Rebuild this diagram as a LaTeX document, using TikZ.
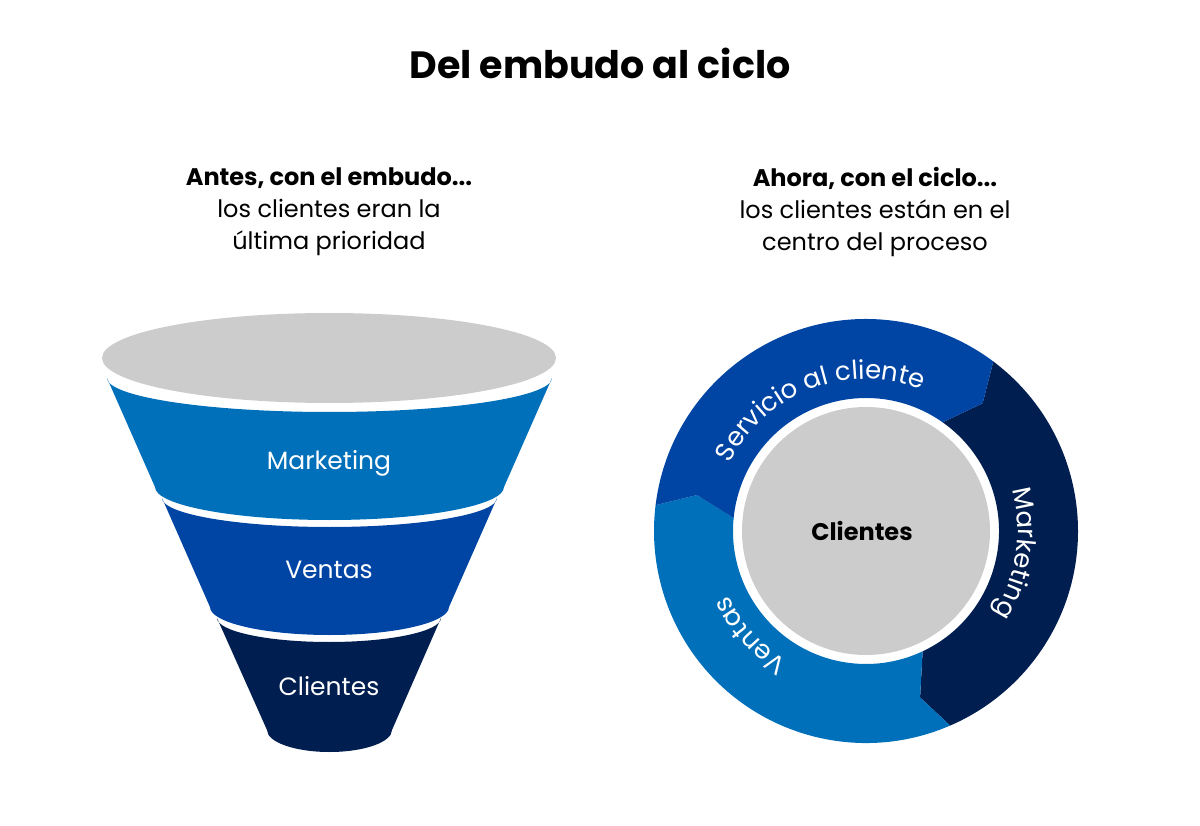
\documentclass[tikz,border=0pt]{standalone}
\usepackage{fontspec}
\setmainfont{Poppins}
\usetikzlibrary{decorations.text}
\definecolor{cgray}{HTML}{CCCCCC}
\definecolor{cmid}{HTML}{0070BA}
\definecolor{cblue}{HTML}{0045A4}
\definecolor{cdark}{HTML}{001E4F}
\tikzset{
 lbl/.style={text=white,font=\fontsize{25}{25}\selectfont},
 head/.style={align=center,font=\fontsize{24}{32}\selectfont},
}
\begin{document}
\begin{tikzpicture}[x=1pt,y=1pt]
\useasboundingbox (0,0) rectangle (1200,-826);
\node (title) at (600,-63) {\fontsize{38}{38}\selectfont\bfseries Del embudo al ciclo};
\node[head] (hl) at (329,-212) {\bfseries Antes, con el embudo...\\los clientes eran la\\última prioridad};
\node[head] (hr) at (875,-212) {\bfseries Ahora, con el ciclo...\\los clientes están en el\\centro del proceso};
% funnel
\fill[cgray] (329,-358) ellipse[x radius=227,y radius=45];
\fill[cmid] (107,-378) arc[start angle=180,end angle=360,x radius=222.5,y radius=34] -- (504,-487) arc[start angle=0,end angle=-180,x radius=174.5,y radius=33] -- cycle;
\fill[cblue] (162,-498) arc[start angle=180,end angle=360,x radius=167.5,y radius=29] -- (449,-607) arc[start angle=0,end angle=-180,x radius=119.5,y radius=28] -- cycle;
\fill[cdark] (217,-618) arc[start angle=180,end angle=360,x radius=112,y radius=24] -- (392,-730) arc[start angle=0,end angle=-180,x radius=62.5,y radius=22] -- cycle;
\node[lbl] (fm) at (329,-463) {Marketing};
\node[lbl] (fv) at (329,-570) {Ventas};
\node[lbl] (fc) at (329,-686) {Clientes};
% cycle
\begin{scope}[shift={(866,-531)}]
\fill[cdark] (53.1:212pt) arc[start angle=53.1,end angle=-66.6,radius=212pt] -- (-72:175pt) -- (-64.8:133pt) arc[start angle=-64.8,end angle=54.8,radius=133pt] -- (47.6:173pt) -- cycle;
\fill[cmid] (-66.6:212pt) arc[start angle=-66.6,end angle=-187,radius=212pt] -- (168:173pt) -- (174.4:133pt) arc[start angle=174.4,end angle=295.2,radius=133pt] -- (-72:175pt) -- cycle;
\fill[cblue] (173:212pt) arc[start angle=173,end angle=53.1,radius=212pt] -- (47.6:173pt) -- (54.8:133pt) arc[start angle=54.8,end angle=174.4,radius=133pt] -- (168:173pt) -- cycle;
\fill[cgray] (0,0) circle[radius=124pt];
\node[font=\fontsize{24}{24}\selectfont\bfseries] (cc) at (-4,0) {Clientes};
\path[decorate,decoration={text along path,text align=center,text={|\color{white}\fontsize{26}{26}\selectfont|Servicio al cliente}}] (176:152pt) arc[start angle=176,end angle=46,radius=152pt];
\path[decorate,decoration={text along path,text align=center,text={|\color{white}\fontsize{26}{26}\selectfont|Marketing}}] (40:152pt) arc[start angle=40,end angle=-57,radius=152pt];
\path[decorate,decoration={text along path,text align=center,text={|\color{white}\fontsize{26}{26}\selectfont|Ventas}}] (-92:152pt) arc[start angle=-92,end angle=-184,radius=152pt];
\end{scope}
\end{tikzpicture}
\end{document}
